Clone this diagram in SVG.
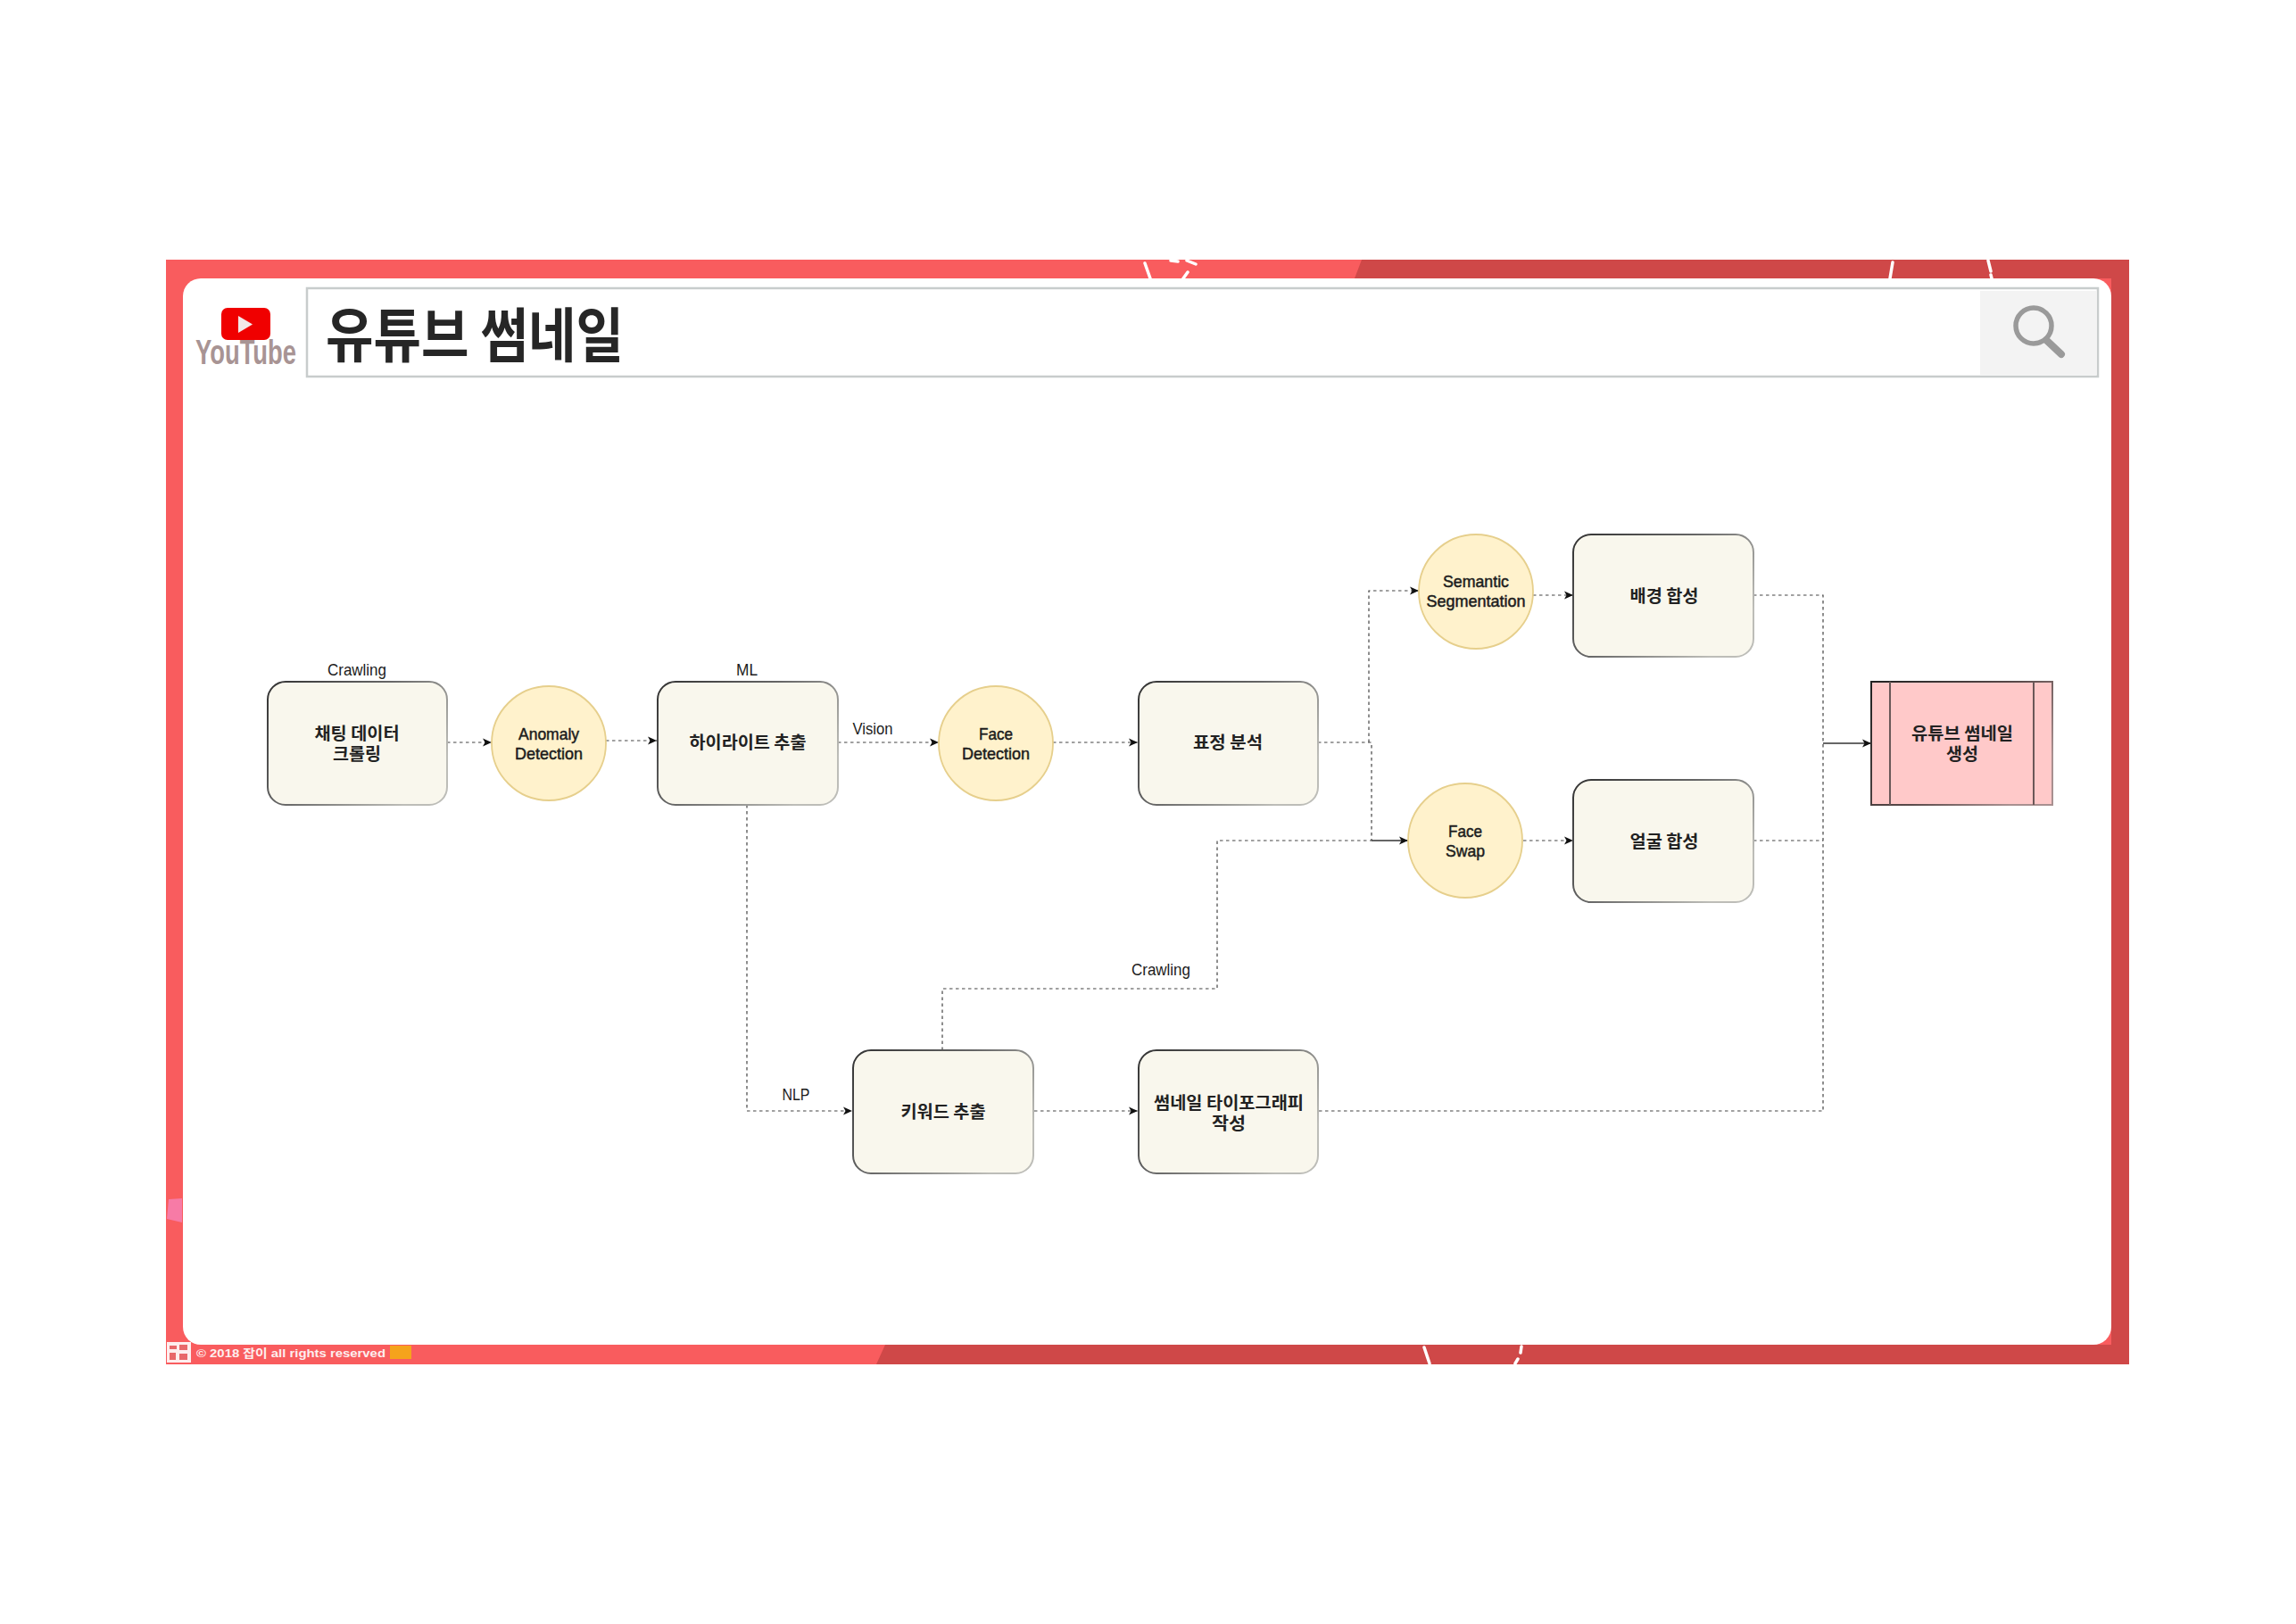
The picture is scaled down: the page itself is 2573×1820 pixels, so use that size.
<svg xmlns="http://www.w3.org/2000/svg" width="2573" height="1820" viewBox="0 0 2573 1820">
<style>
.t{font-family:"Liberation Sans","Noto Sans CJK KR",sans-serif;fill:#1c1c1c;text-anchor:middle;dominant-baseline:central;font-size:19px}
.n{stroke:#1c1c1c;stroke-width:.5}
.k{font-family:"Noto Sans CJK KR","Liberation Sans",sans-serif;fill:#222;text-anchor:middle;dominant-baseline:central;font-size:19px;font-weight:700}
.box{fill:#f9f7ed;stroke:url(#edge);stroke-width:2}
.el{fill:#fff2cc;stroke:#e6cf8c;stroke-width:1.800}
.d{fill:none;stroke:#444;stroke-width:1.200;stroke-dasharray:3.500 3.500}
.s{fill:none;stroke:#333;stroke-width:1.600}
.crack{fill:none;stroke:#fff;stroke-width:3.500;stroke-linecap:round}
</style>
<defs>
<linearGradient id="edge" x1="0" y1="0" x2="1" y2="0.6"><stop offset="0" stop-color="#333"/><stop offset=".5" stop-color="#666"/><stop offset="1" stop-color="#bdbdb8"/></linearGradient>
<linearGradient id="edge2" x1="0" y1="0" x2="1" y2="0.6"><stop offset="0" stop-color="#222"/><stop offset=".6" stop-color="#5a4a4a"/><stop offset="1" stop-color="#a89090"/></linearGradient>
<marker id="a" markerUnits="userSpaceOnUse" markerWidth="12" markerHeight="12" refX="10" refY="6" orient="auto"><path d="M0 1.500 L10 6 L0 10.500 L2.500 6Z" fill="#111"/></marker>
</defs>
<rect width="2573" height="1820" fill="#fff"/>
<g id="frame">
<rect x="186" y="291" width="2200" height="1238" fill="#f95c5e"/>
<path d="M1526 291H2386V1529H982L992 1507H2366V312H1518Z" fill="#cf4848"/>
<rect x="205" y="312" width="2161" height="1195" rx="20" fill="#fff"/>
<path d="M189 1344L204 1343V1370L187 1366Z" fill="#f77ba6"/>
<rect x="437" y="1508" width="24" height="15" fill="#f5a31c"/>
<rect x="187" y="1504" width="27" height="23" fill="#fdeeee"/>
<path d="M190 1508h8v4h-8zM201 1507h9v6h-9zM190 1516h7v8h-7zM201 1517h9v7h-9z" fill="#e8686a"/>
<text x="220" y="1516" font-family="'Liberation Sans','Noto Sans CJK KR',sans-serif" font-size="13" font-weight="700" fill="#fdeeee" dominant-baseline="central" textLength="212" lengthAdjust="spacingAndGlyphs">© 2018 잡이 all rights reserved</text>
<path class="crack" d="M1283 295L1289 312M1331 305L1326 312M1312 292L1320 293M1330 292L1340 296M2121 294L2118 312M2228 292L2231 304M2231 308L2232 312M1596 1510L1602 1528M1705 1509L1704 1516M1701 1523L1698 1528"/>
</g>
<g id="searchbar">
<rect x="344" y="323" width="2007" height="99" fill="#fff" stroke="#c8cccc" stroke-width="2.500"/>
<rect x="2219" y="326" width="131" height="94" fill="#f3f3f3"/>
<circle cx="2279" cy="365" r="20" fill="none" stroke="#9a9a9a" stroke-width="5.500"/>
<path d="M2293 381L2310 397" stroke="#9a9a9a" stroke-width="8" stroke-linecap="round"/>
<text x="365" y="371" font-family="'Noto Sans CJK KR',sans-serif" font-size="66" font-weight="700" fill="#262626" dominant-baseline="central" textLength="334" lengthAdjust="spacingAndGlyphs">유튜브 썸네일</text>
</g>
<g id="youtube-logo">
<rect x="248" y="345" width="55" height="36" rx="7" fill="#f00000"/>
<path d="M267 354L283 363.500L267 373Z" fill="#f2e8e8"/>
<text x="219" y="394" font-family="'Liberation Sans',sans-serif" font-size="39" font-weight="700" fill="#a89494" dominant-baseline="central" textLength="113" lengthAdjust="spacingAndGlyphs">YouTube</text>
</g>
<g id="connectors">
<path class="d" marker-end="url(#a)" d="M501 832H551"/>
<path class="d" marker-end="url(#a)" d="M679 830H736"/>
<path class="d" marker-end="url(#a)" d="M939 832H1052"/>
<path class="d" marker-end="url(#a)" d="M1180 832H1275"/>
<path class="d" d="M1477 832H1537V942"/>
<path class="d" marker-end="url(#a)" d="M1534 832V662H1590"/>
<path class="s" marker-end="url(#a)" d="M1537 942H1578"/>
<path class="d" marker-end="url(#a)" d="M1718 667H1763"/>
<path class="d" marker-end="url(#a)" d="M1707 942H1763"/>
<path class="d" d="M1965 667H2043V1245"/>
<path class="d" d="M1965 942H2043"/>
<path class="s" marker-end="url(#a)" d="M2043 833H2097"/>
<path class="d" marker-end="url(#a)" d="M837 902V1245H955"/>
<path class="d" marker-end="url(#a)" d="M1159 1245H1275"/>
<path class="d" d="M1478 1245H2043"/>
<path class="d" d="M1056 1177V1108H1364V942H1537"/>
</g>
<g id="labels">
<text class="t" x="400" y="750" textLength="66" lengthAdjust="spacingAndGlyphs">Crawling</text>
<text class="t" x="837" y="750" textLength="24" lengthAdjust="spacingAndGlyphs">ML</text>
<text class="t" x="978" y="816" textLength="45" lengthAdjust="spacingAndGlyphs">Vision</text>
<text class="t" x="1301" y="1086" textLength="66" lengthAdjust="spacingAndGlyphs">Crawling</text>
<text class="t" x="892" y="1226" textLength="31" lengthAdjust="spacingAndGlyphs">NLP</text>
</g>
<g id="node-chat"><rect class="box" x="300" y="764" width="201" height="138" rx="20"/><text class="k" x="400" y="820" textLength="95" lengthAdjust="spacingAndGlyphs">채팅 데이터</text><text class="k" x="400" y="843" textLength="54" lengthAdjust="spacingAndGlyphs">크롤링</text></g>
<g id="node-anomaly"><ellipse class="el" cx="615" cy="833" rx="64" ry="64"/><text class="t n" x="615" y="822" textLength="68" lengthAdjust="spacingAndGlyphs">Anomaly</text><text class="t n" x="615" y="844" textLength="76" lengthAdjust="spacingAndGlyphs">Detection</text></g>
<g id="node-highlight"><rect class="box" x="737" y="764" width="202" height="138" rx="20"/><text class="k" x="838" y="830" textLength="131" lengthAdjust="spacingAndGlyphs">하이라이트 추출</text></g>
<g id="node-face-detection"><ellipse class="el" cx="1116" cy="833" rx="64" ry="64"/><text class="t n" x="1116" y="822" textLength="38" lengthAdjust="spacingAndGlyphs">Face</text><text class="t n" x="1116" y="844" textLength="76" lengthAdjust="spacingAndGlyphs">Detection</text></g>
<g id="node-expression"><rect class="box" x="1276" y="764" width="201" height="138" rx="20"/><text class="k" x="1376" y="830" textLength="78" lengthAdjust="spacingAndGlyphs">표정 분석</text></g>
<g id="node-semantic"><ellipse class="el" cx="1654" cy="663" rx="64" ry="64"/><text class="t n" x="1654" y="651" textLength="74" lengthAdjust="spacingAndGlyphs">Semantic</text><text class="t n" x="1654" y="673" textLength="111" lengthAdjust="spacingAndGlyphs">Segmentation</text></g>
<g id="node-background"><rect class="box" x="1763" y="599" width="202" height="137" rx="20"/><text class="k" x="1865" y="666" textLength="77" lengthAdjust="spacingAndGlyphs">배경 합성</text></g>
<g id="node-face-swap"><ellipse class="el" cx="1642" cy="942" rx="64" ry="64"/><text class="t n" x="1642" y="931" textLength="38" lengthAdjust="spacingAndGlyphs">Face</text><text class="t n" x="1642" y="953" textLength="44" lengthAdjust="spacingAndGlyphs">Swap</text></g>
<g id="node-face-composite"><rect class="box" x="1763" y="874" width="202" height="137" rx="20"/><text class="k" x="1865" y="941" textLength="77" lengthAdjust="spacingAndGlyphs">얼굴 합성</text></g>
<g id="node-keyword"><rect class="box" x="956" y="1177" width="202" height="138" rx="20"/><text class="k" x="1057" y="1244" textLength="95" lengthAdjust="spacingAndGlyphs">키워드 추출</text></g>
<g id="node-typography"><rect class="box" x="1276" y="1177" width="201" height="138" rx="20"/><text class="k" x="1377" y="1234" textLength="168" lengthAdjust="spacingAndGlyphs">썸네일 타이포그래피</text><text class="k" x="1377" y="1257" textLength="38" lengthAdjust="spacingAndGlyphs">작성</text></g>
<g id="node-result"><rect x="2097" y="764" width="203" height="138" fill="#ffc9c9" stroke="url(#edge2)" stroke-width="2"/><path d="M2118 764V902M2279 764V902" stroke="#6a5858" stroke-width="2" fill="none"/><text class="k" x="2199" y="820" textLength="114" lengthAdjust="spacingAndGlyphs">유튜브 썸네일</text><text class="k" x="2199" y="843" textLength="36" lengthAdjust="spacingAndGlyphs">생성</text></g>
</svg>
